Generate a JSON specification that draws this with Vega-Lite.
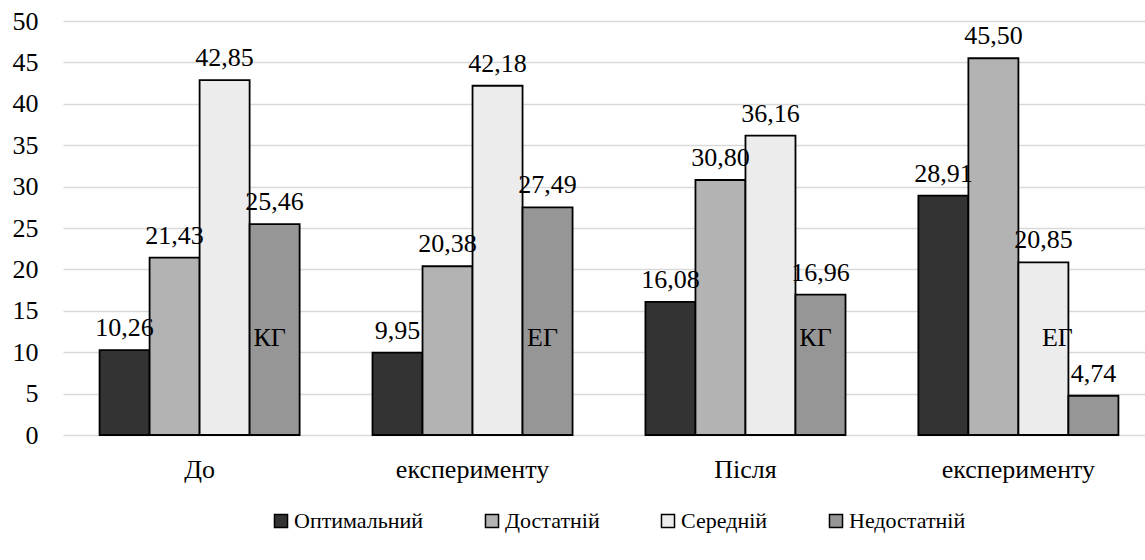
{
  "$schema": "https://vega.github.io/schema/vega-lite/v6.json",
  "width": 1092,
  "height": 414,
  "autosize": {"type": "none"},
  "padding": {"left": 63, "top": 21, "right": 0, "bottom": 125},
  "background": "white",
  "config": {
    "view": {"stroke": null},
    "font": "Liberation Serif",
    "locale": {"number": {"decimal": ",", "thousands": " ", "grouping": [3], "currency": ["", ""]}}
  },
  "datasets": {
    "bars": [
      {"group": "g1", "series": "Оптимальний", "value": 10.26},
      {"group": "g1", "series": "Достатній", "value": 21.43},
      {"group": "g1", "series": "Середній", "value": 42.85},
      {"group": "g1", "series": "Недостатній", "value": 25.46},
      {"group": "g2", "series": "Оптимальний", "value": 9.95},
      {"group": "g2", "series": "Достатній", "value": 20.38},
      {"group": "g2", "series": "Середній", "value": 42.18},
      {"group": "g2", "series": "Недостатній", "value": 27.49},
      {"group": "g3", "series": "Оптимальний", "value": 16.08},
      {"group": "g3", "series": "Достатній", "value": 30.80},
      {"group": "g3", "series": "Середній", "value": 36.16},
      {"group": "g3", "series": "Недостатній", "value": 16.96},
      {"group": "g4", "series": "Оптимальний", "value": 28.91},
      {"group": "g4", "series": "Достатній", "value": 45.50},
      {"group": "g4", "series": "Середній", "value": 20.85},
      {"group": "g4", "series": "Недостатній", "value": 4.74}
    ],
    "notes": [
      {"group": "g1", "series": "Недостатній", "note": "КГ", "pos": 11.7},
      {"group": "g2", "series": "Недостатній", "note": "ЕГ", "pos": 11.7},
      {"group": "g3", "series": "Недостатній", "note": "КГ", "pos": 11.7},
      {"group": "g4", "series": "Середній", "note": "ЕГ", "pos": 11.7}
    ]
  },
  "encoding": {
    "x": {
      "field": "group",
      "type": "nominal",
      "sort": ["g1", "g2", "g3", "g4"],
      "scale": {"paddingInner": 0.267, "paddingOuter": 0.134},
      "axis": {
        "title": null,
        "labelExpr": "datum.value == 'g1' ? 'До' : datum.value == 'g3' ? 'Після' : 'експерименту'",
        "labelAngle": 0,
        "labelFont": "Liberation Serif",
        "labelColor": "#000000",
        "labelFontSize": 26,
        "labelLimit": 0,
        "labelPadding": 21,
        "ticks": false,
        "domain": false
      }
    },
    "xOffset": {
      "field": "series",
      "type": "nominal",
      "sort": ["Оптимальний", "Достатній", "Середній", "Недостатній"],
      "scale": {"paddingInner": 0, "paddingOuter": 0}
    }
  },
  "layer": [
    {
      "data": {"name": "bars"},
      "mark": {"type": "bar", "stroke": "#000000", "strokeWidth": 1.8},
      "encoding": {
        "y": {
          "field": "value",
          "type": "quantitative",
          "scale": {"domain": [0, 50]},
          "axis": {
            "title": null,
            "values": [0, 5, 10, 15, 20, 25, 30, 35, 40, 45, 50],
            "labelFont": "Liberation Serif",
            "labelColor": "#000000",
            "labelFontSize": 26,
            "labelPadding": 25,
            "ticks": false,
            "domain": false,
            "gridColor": "#d9d9d9",
            "gridWidth": 1.5
          }
        },
        "fill": {
          "field": "series",
          "type": "nominal",
          "sort": ["Оптимальний", "Достатній", "Середній", "Недостатній"],
          "scale": {
            "domain": ["Оптимальний", "Достатній", "Середній", "Недостатній"],
            "range": ["#333333", "#b3b3b3", "#ececec", "#969696"]
          },
          "legend": {
            "title": null,
            "orient": "none",
            "direction": "horizontal",
            "legendX": 207,
            "legendY": 489,
            "symbolType": "square",
            "symbolSize": 170,
            "symbolStrokeColor": "#000000",
            "symbolStrokeWidth": 1.5,
            "symbolOpacity": 1,
            "labelFont": "Liberation Serif",
            "labelColor": "#000000",
            "labelFontSize": 22,
            "labelLimit": 0,
            "labelOffset": 2,
            "columnPadding": 57
          }
        }
      }
    },
    {
      "data": {"name": "bars"},
      "mark": {"type": "text", "baseline": "bottom", "dy": -9, "fontSize": 26, "color": "#000000", "font": "Liberation Serif"},
      "encoding": {
        "y": {"field": "value", "type": "quantitative"},
        "text": {"field": "value", "type": "quantitative", "format": ".2f"}
      }
    },
    {
      "data": {"name": "notes"},
      "transform": [{"filter": "datum.group != 'g4'"}],
      "mark": {"type": "text", "baseline": "middle", "fontSize": 26, "color": "#000000", "dx": -5, "font": "Liberation Serif"},
      "encoding": {
        "y": {"field": "pos", "type": "quantitative"},
        "text": {"field": "note"}
      }
    },
    {
      "data": {"name": "notes"},
      "transform": [{"filter": "datum.group == 'g4'"}],
      "mark": {"type": "text", "baseline": "middle", "fontSize": 26, "color": "#000000", "dx": 14, "font": "Liberation Serif"},
      "encoding": {
        "y": {"field": "pos", "type": "quantitative"},
        "text": {"field": "note"}
      }
    }
  ]
}
